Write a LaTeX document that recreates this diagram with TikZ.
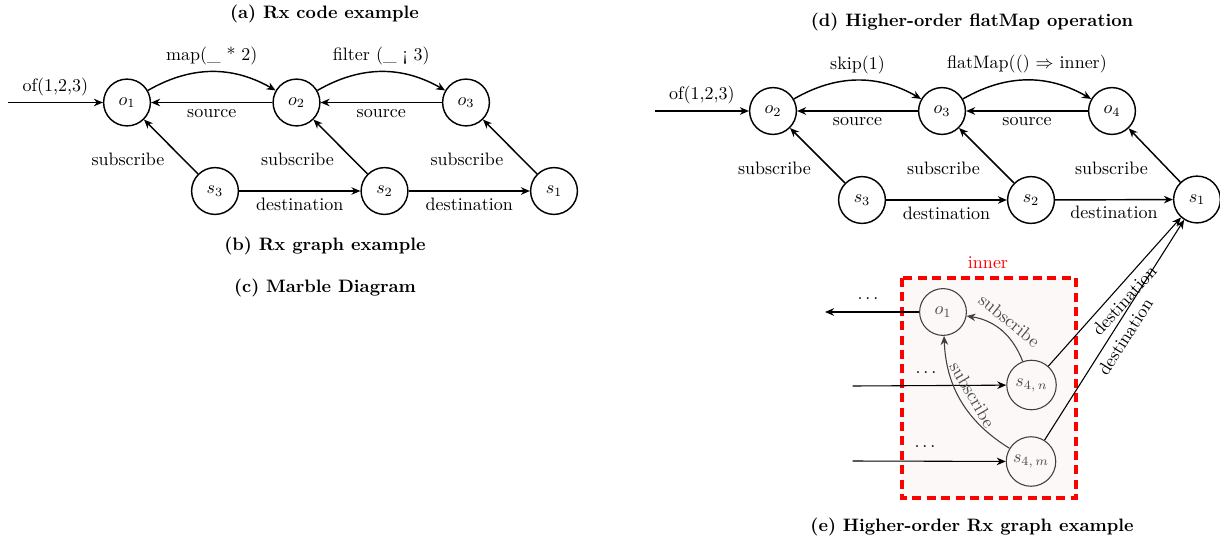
\documentclass[tikz,border=0pt]{standalone}
\usepackage{fontspec}
\usetikzlibrary{arrows.meta}
\definecolor{innerfill}{RGB}{252,248,248}
\begin{document}
\begin{tikzpicture}[x=0.5556pt, y=0.5556pt, >={Stealth[length=5pt,width=4.2pt,inset=1.6pt]},
    vertex/.style={draw, thick, circle, minimum size=26pt, inner sep=0pt},
    ivertex/.style={draw=black!75, semithick, circle, minimum size=26pt, inner sep=0pt, text=black!70},
    caption/.style={font=\bfseries},
    edge/.style={->, thick},
    iedge/.style={->, semithick, draw=black!75, text=black!70}]
  \useasboundingbox (0,0) rectangle (1220,-544);

  % (a)/(b) Rx graph
  \node[caption] (capa) at (324.5,-14) {(a) Rx code example};
  \node[vertex] (a1) at (127,-102.5) {$o_1$};
  \node[vertex] (a2) at (296.5,-102.5) {$o_2$};
  \node[vertex] (a3) at (466,-102.5) {$o_3$};
  \node[vertex] (as3) at (215,-191) {$s_3$};
  \node[vertex] (as2) at (384.5,-191) {$s_2$};
  \node[vertex] (as1) at (554,-191) {$s_1$};
  \coordinate (ain) at (8,-102.5);
  \node[caption] (capb) at (325,-246) {(b) Rx graph example};
  \node[caption] (capc) at (325,-288) {(c) Marble Diagram};
  \begin{scope}[edge]
    \draw (ain) -- node[above] {of(1,2,3)} (a1);
    \draw (a1) to[bend left=30] node[above] {map(\_ * 2)} (a2);
    \draw (a2) to[bend left=30] node[above] {filter (\_ ¡ 3)} (a3);
    \draw (a2) -- node[below] {source} (a1);
    \draw (a3) -- node[below] {source} (a2);
    \draw (as3) -- node[below left] {subscribe} (a1);
    \draw (as2) -- node[below left] {subscribe} (a2);
    \draw (as1) -- node[below left] {subscribe} (a3);
    \draw (as3) -- node[below] {destination} (as2);
    \draw (as2) -- node[below] {destination} (as1);
  \end{scope}

  % (d)/(e) higher-order graph
  \node[caption] (capd) at (972,-22) {(d) Higher-order flatMap operation};
  \node[vertex] (o2) at (773,-111) {$o_2$};
  \node[vertex] (o3) at (942,-111) {$o_3$};
  \node[vertex] (o4) at (1112,-111) {$o_4$};
  \node[vertex] (s3) at (862,-200) {$s_3$};
  \node[vertex] (s2) at (1031,-200) {$s_2$};
  \node[vertex] (s1) at (1197,-199.5) {$s_1$};
  \coordinate (din) at (655,-111);
  \begin{scope}[edge]
    \draw (din) -- node[above] {of(1,2,3)} (o2);
    \draw (o2) to[bend left=30] node[above] {skip(1)} (o3);
    \draw (o3) to[bend left=30] node[above] {flatMap(() $\Rightarrow$ inner)} (o4);
    \draw (o3) -- node[below] {source} (o2);
    \draw (o4) -- node[below] {source} (o3);
    \draw (s3) -- node[below left] {subscribe} (o2);
    \draw (s2) -- node[below left] {subscribe} (o3);
    \draw (s1) -- node[below left] {subscribe} (o4);
    \draw (s3) -- node[below] {destination} (s2);
    \draw (s2) -- node[below] {destination} (s1);
  \end{scope}

  % inner observable
  \draw[red, line width=1.7pt, dash pattern=on 5pt off 3pt, fill=innerfill] (902,-278) rectangle (1076,-498);
  \node[red] (innerlbl) at (988,-263) {inner};
  \node[ivertex] (i1) at (943,-312) {$o_1$};
  \node[ivertex, minimum size=27.5pt] (s4n) at (1031.5,-385) {$s_{4,\,n}$};
  \node[ivertex, minimum size=27.5pt] (s4m) at (1031,-461.5) {$s_{4,\,m}$};
  \coordinate (iout) at (825,-312);
  \coordinate (inn) at (852.5,-386);
  \coordinate (inm) at (852.5,-461);
  \node (dotso) at (868,-299) {$\ldots$};
  \node (dotsn) at (926,-373) {$\ldots$};
  \node (dotsm) at (925,-447) {$\ldots$};
  \draw[edge, semithick] (i1) -- (iout);
  \draw[edge, semithick] (inn) -- (s4n);
  \draw[edge, semithick] (inm) -- (s4m);
  \draw[iedge] (s4n) to[bend right=30] node[sloped, above] {subscribe} (i1);
  \draw[iedge] (s4m) to[bend left=28] node[sloped, above] {subscribe} (i1);
  \draw[edge, semithick] (s4n) -- node[sloped, below] {destination} (s1);
  \draw[edge, semithick] (s4m) -- node[sloped, below] {destination} (s1);
  \node[caption] (cape) at (972,-527) {(e) Higher-order Rx graph example};
\end{tikzpicture}
\end{document}
